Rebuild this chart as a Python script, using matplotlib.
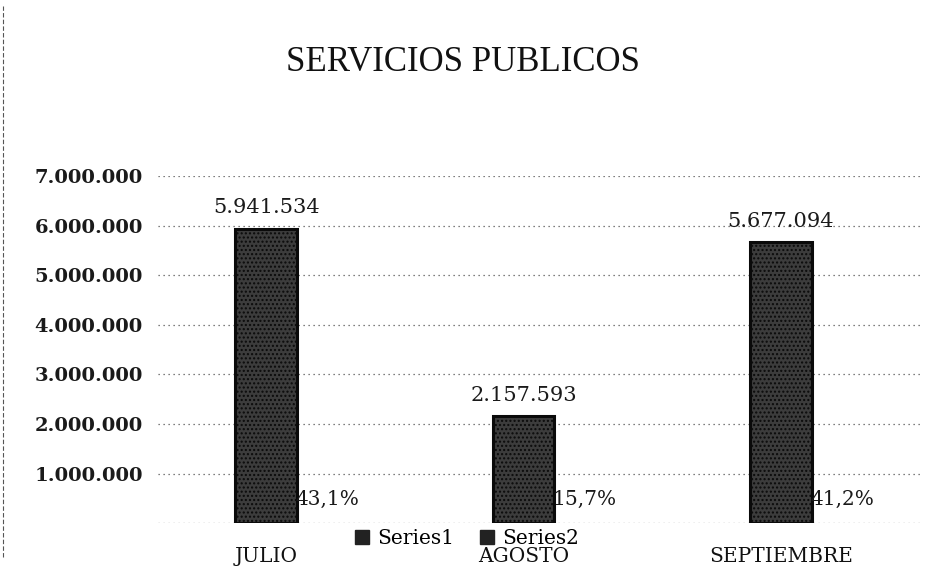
import matplotlib
matplotlib.use("Agg")
import matplotlib.pyplot as plt
from matplotlib.lines import Line2D
import numpy as np

categories = ["JULIO", "AGOSTO", "SEPTIEMBRE"]
series1 = [5941534, 2157593, 5677094]
series2 = [0.431, 0.157, 0.412]
series1_labels = ["5.941.534", "2.157.593", "5.677.094"]
series2_labels = ["43,1%", "15,7%", "41,2%"]
yticks = [1000000, 2000000, 3000000, 4000000, 5000000, 6000000, 7000000]
ytick_labels = ["1.000.000", "2.000.000", "3.000.000", "4.000.000",
                "5.000.000", "6.000.000", "7.000.000"]
title = "SERVICIOS PUBLICOS"

serif = ["DejaVu Serif"]
plt.rcParams["font.family"] = serif
plt.rcParams["hatch.color"] = "#b5b5b5"

fig = plt.figure(figsize=(9.25, 5.68), dpi=100)
ax = fig.add_axes([0.171, 0.079, 0.826, 0.611])

x = np.arange(len(categories))
w = 0.24
bars1 = ax.bar(x, series1, width=w, color="#3c3c3c", edgecolor="#0a0a0a",
               linewidth=2.2, hatch="....", zorder=3, label="Series1")
bars2 = ax.bar(x + w, series2, width=w, color="#3c3c3c", edgecolor="#0a0a0a",
               linewidth=0, zorder=3, label="Series2")

for xi, v, lab in zip(x, series1, series1_labels):
    ax.annotate(lab, (xi, v), xytext=(0, 8), textcoords="offset points",
                ha="center", va="bottom", fontsize=15, color="#1a1a1a")
for xi, v, lab in zip(x + w, series2, series2_labels):
    ax.annotate(lab, (xi - w / 2, v), xytext=(-1, 17), textcoords="offset points",
                ha="left", va="center", fontsize=14.5, color="#1a1a1a")

ax.set_ylim(0, 7000000)
ax.set_xlim(-0.42, 2.55)
ax.set_yticks(yticks)
ax.set_yticklabels(ytick_labels, fontsize=14, fontweight="bold", color="#1a1a1a")
ax.set_xticks(x)
ax.set_xticklabels(categories, fontsize=14.5, color="#111111")
ax.tick_params(axis="both", length=0)
ax.tick_params(axis="y", pad=11)
ax.tick_params(axis="x", pad=17)
ax.yaxis.grid(True, linestyle=(0, (1, 3)), color="#555555", linewidth=0.9, zorder=0)
ax.axhline(0, linestyle=(0, (1, 3)), color="#555555", linewidth=0.9, zorder=0)
for s in ax.spines.values():
    s.set_visible(False)

handles = [plt.Rectangle((0, 0), 1, 1, facecolor="#222222", edgecolor="#222222"),
           plt.Rectangle((0, 0), 1, 1, facecolor="#222222", edgecolor="#222222")]
fig.legend(handles, ["Series1", "Series2"], loc="center", bbox_to_anchor=(0.505, 0.052),
           ncol=2, frameon=False, handlelength=0.7, handleheight=0.7,
           handletextpad=0.4, columnspacing=1.3, prop={"family": serif, "size": 14.5})

fig.text(0.5, 0.89, title, ha="center", va="center", fontsize=25,
         family=["Liberation Serif"], color="#111111")

# scan edge line on the left
fig.add_artist(Line2D([0.003, 0.003], [0.02, 0.99], transform=fig.transFigure,
                      color="#555555", linewidth=0.8, linestyle=(0, (4, 2))))

fig.savefig("out.png", dpi=100)
